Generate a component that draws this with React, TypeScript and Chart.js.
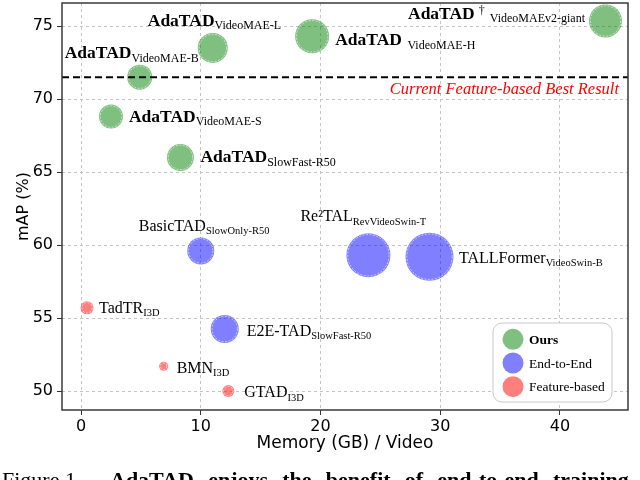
import React, { useEffect, useRef } from "react";
import { Chart, registerables } from "chart.js";

Chart.register(...registerables);

// ---------------- data ----------------
const ourNames = ["AdaTAD", "AdaTAD", "AdaTAD", "AdaTAD", "AdaTAD", "AdaTAD"];
const ourSubs = ["VideoMAE-S", "VideoMAE-B", "VideoMAE-L", "VideoMAE-H", "VideoMAEv2-giant", "SlowFast-R50"];
const ourSup = ["", "", "", "", "†", ""];
const ourMemory = [2.5, 4.9, 11.0, 19.3, 43.8, 8.3];
const ourMAP = [68.8, 71.5, 73.5, 74.3, 75.35, 66.0];
const ourSize = [12, 12.5, 15, 17, 16.5, 13.5];

const e2eNames = ["BasicTAD", "Re²TAL", "TALLFormer", "E2E-TAD"];
const e2eSubs = ["SlowOnly-R50", "RevVideoSwin-T", "VideoSwin-B", "SlowFast-R50"];
const e2eMemory = [10.0, 24.0, 29.1, 12.0];
const e2eMAP = [59.6, 59.3, 59.2, 54.25];
const e2eSize = [13.5, 22, 24, 14];

const featNames = ["TadTR", "BMN", "GTAD"];
const featSubs = ["I3D", "I3D", "I3D"];
const featMemory = [0.5, 6.9, 12.3];
const featMAP = [55.7, 51.7, 50.0];
const featSize = [6.5, 4.5, 6];

const bestFeatureMAP = 71.5;
const bestFeatureLabel = "Current Feature-based Best Result";
const legendLabels = ["Ours", "End-to-End", "Feature-based"];
const xTitle = "Memory (GB) / Video";
const yTitle = "mAP (%)";
const xRange = [-1.59, 45.68];
const yRange = [48.7, 76.58];
const xStep = 10;
const yStep = 5;
const captionPlain = "Figure 1.";
const captionBold = ["AdaTAD", "enjoys", "the", "benefit", "of", "end-to-end", "training"];

// ---------------- layout / style ----------------
const GREEN = "rgba(0,128,0,0.5)";
const BLUE = "rgba(0,0,255,0.5)";
const RED = "rgba(255,0,0,0.5)";
const SERIF = '"Liberation Serif", "Times New Roman", serif';
const SANS = '"DejaVu Sans", sans-serif';

// pixel offsets of label start (x) / baseline (y) relative to bubble centre
const ourLabelOffsets = [[18, 5], [-75, -19], [-65, -22], [23, 9], [-197.5, -2], [20, 5]];
const ourSubGap = [0, 0, 0, 5.5, 5, 0];
const e2eLabelOffsets = [[-62, -20], [-68, -34], [29.5, 6], [22, 7]];
const featLabelOffsets = [[12, 5], [13, 6.5], [16, 6]];
const captionStartX = 110;
const captionLastWordX = 553;

function drawLabel(
  ctx: CanvasRenderingContext2D,
  x: number,
  y: number,
  main: string,
  sub: string,
  sup: string,
  mainFont: string,
  subFont: string,
  gap: number
) {
  ctx.textAlign = "left";
  ctx.textBaseline = "alphabetic";
  ctx.fillStyle = "#000";
  ctx.font = mainFont;
  ctx.fillText(main, x, y);
  let w = ctx.measureText(main).width;
  if (sup) {
    ctx.font = "12px " + SERIF;
    ctx.fillText(sup, x + w + 4, y - 5);
    w += 4 + ctx.measureText(sup).width;
  }
  ctx.font = subFont;
  ctx.fillText(sub, x + w + gap, y + 3.5);
}

const overlayPlugin = {
  id: "overlay",
  afterDatasetsDraw(chart: any) {
    const ctx: CanvasRenderingContext2D = chart.ctx;
    const area = chart.chartArea;
    const ys = chart.scales.y;

    // dashed white rings inside bubbles
    ctx.save();
    chart.data.datasets.forEach((_: any, di: number) => {
      const meta = chart.getDatasetMeta(di);
      meta.data.forEach((el: any) => {
        const r = el.options.radius;
        ctx.beginPath();
        ctx.arc(el.x, el.y, Math.max(r - 1.3, 1), 0, Math.PI * 2);
        ctx.setLineDash([2, 1.5]);
        ctx.lineWidth = 0.8;
        ctx.strokeStyle = "rgba(255,255,255,0.75)";
        ctx.stroke();
      });
    });
    ctx.restore();

    // best feature-based result line
    const yb = ys.getPixelForValue(bestFeatureMAP);
    ctx.save();
    ctx.beginPath();
    ctx.setLineDash([7, 4]);
    ctx.lineWidth = 2;
    ctx.strokeStyle = "#000";
    ctx.moveTo(area.left, yb);
    ctx.lineTo(area.right, yb);
    ctx.stroke();
    ctx.setLineDash([]);
    ctx.font = "italic 16.5px " + SERIF;
    ctx.fillStyle = "#ff0000";
    ctx.textAlign = "right";
    ctx.textBaseline = "alphabetic";
    ctx.fillText(bestFeatureLabel, area.right - 9, yb + 17);
    ctx.restore();

    // labels
    ctx.save();
    const m0 = chart.getDatasetMeta(0);
    m0.data.forEach((el: any, i: number) => {
      const [dx, dy] = ourLabelOffsets[i];
      drawLabel(ctx, el.x + dx, el.y + dy, ourNames[i], ourSubs[i], ourSup[i],
        "bold 17.5px " + SERIF, "12px " + SERIF, ourSubGap[i]);
    });
    const m1 = chart.getDatasetMeta(1);
    m1.data.forEach((el: any, i: number) => {
      const [dx, dy] = e2eLabelOffsets[i];
      drawLabel(ctx, el.x + dx, el.y + dy, e2eNames[i], e2eSubs[i], "",
        "16px " + SERIF, "10.5px " + SERIF, 0);
    });
    const m2 = chart.getDatasetMeta(2);
    m2.data.forEach((el: any, i: number) => {
      const [dx, dy] = featLabelOffsets[i];
      drawLabel(ctx, el.x + dx, el.y + dy, featNames[i], featSubs[i], "",
        "16px " + SERIF, "10.5px " + SERIF, 0);
    });
    ctx.restore();
  },
  afterDraw(chart: any) {
    const ctx: CanvasRenderingContext2D = chart.ctx;
    const area = chart.chartArea;
    ctx.save();
    // frame
    ctx.lineWidth = 1.5;
    ctx.strokeStyle = "#3a3a3a";
    ctx.strokeRect(area.left, area.top, area.right - area.left, area.bottom - area.top);

    // legend
    const bx = area.right - 135, by = area.bottom - 87, bw = 119, bh = 79;
    ctx.beginPath();
    ctx.roundRect(bx, by, bw, bh, 9);
    ctx.fillStyle = "#fff";
    ctx.fill();
    ctx.lineWidth = 1;
    ctx.strokeStyle = "#c8c8c8";
    ctx.stroke();
    const colors = [GREEN, BLUE, RED];
    legendLabels.forEach((lab, i) => {
      const cy = by + 16.3 + i * 23.7;
      ctx.beginPath();
      ctx.arc(bx + 20, cy, 10.5, 0, Math.PI * 2);
      ctx.fillStyle = colors[i];
      ctx.fill();
      ctx.fillStyle = "#000";
      ctx.font = (i === 0 ? "bold " : "") + "13.5px " + SERIF;
      ctx.textAlign = "left";
      ctx.textBaseline = "middle";
      ctx.fillText(lab, bx + 36, cy + 1);
    });

    // caption (cut off by page edge), justified words
    ctx.textBaseline = "alphabetic";
    ctx.textAlign = "left";
    ctx.fillStyle = "#000";
    ctx.font = "22px " + SERIF;
    ctx.fillText(captionPlain, 2, 487);
    ctx.font = "bold 22px " + SERIF;
    const widths = captionBold.map((w) => ctx.measureText(w).width);
    const n = captionBold.length - 1;
    const used = widths.slice(0, n).reduce((a, b) => a + b, 0);
    const space = (captionLastWordX - captionStartX - used) / n;
    let cx = captionStartX;
    captionBold.forEach((w, i) => {
      ctx.fillText(w, cx, 487);
      cx += widths[i] + space;
    });
    ctx.restore();
  },
};

export default function App() {
  const ref = useRef<HTMLCanvasElement>(null);
  useEffect(() => {
    const mk = (xs: number[], ys: number[], rs: number[]) =>
      xs.map((x, i) => ({ x, y: ys[i], r: rs[i] }));
    const chart = new Chart(ref.current as HTMLCanvasElement, {
      type: "bubble",
      data: {
        datasets: [
          { label: legendLabels[0], data: mk(ourMemory, ourMAP, ourSize), backgroundColor: GREEN, borderWidth: 0 },
          { label: legendLabels[1], data: mk(e2eMemory, e2eMAP, e2eSize), backgroundColor: BLUE, borderWidth: 0 },
          { label: legendLabels[2], data: mk(featMemory, featMAP, featSize), backgroundColor: RED, borderWidth: 0 },
        ],
      },
      options: {
        animation: false,
        responsive: false,
        devicePixelRatio: 1,
        layout: { autoPadding: false, padding: { left: 0, top: 3, right: 12, bottom: 20 } },
        plugins: { legend: { display: false }, tooltip: { enabled: false } },
        scales: {
          x: {
            type: "linear",
            position: "bottom",
            min: xRange[0],
            max: xRange[1],
            ticks: { stepSize: xStep, includeBounds: false, color: "#000", font: { family: SANS, size: 16 }, padding: 2, maxRotation: 0 },
            grid: { color: "#c4c4c4", lineWidth: 1, tickLength: 5, tickColor: "#333", tickWidth: 1 },
            border: { display: false, dash: [3, 3] },
            title: { display: true, text: xTitle, color: "#000", font: { family: SANS, size: 17 }, padding: { top: 0, bottom: 6 } },
            afterFit(scale: any) {
              scale.height = 50;
              scale.paddingLeft = 0;
              scale.paddingRight = 0;
            },
          },
          y: {
            type: "linear",
            position: "left",
            min: yRange[0],
            max: yRange[1],
            ticks: { stepSize: yStep, includeBounds: false, color: "#000", font: { family: SANS, size: 16 }, padding: 4 },
            grid: { color: "#c4c4c4", lineWidth: 1, tickLength: 5, tickColor: "#333", tickWidth: 1 },
            border: { display: false, dash: [3, 3] },
            title: { display: true, text: yTitle, color: "#000", font: { family: SANS, size: 16 }, padding: { top: 14, bottom: 0 } },
            afterFit(scale: any) {
              scale.width = 62;
              scale.paddingTop = 0;
              scale.paddingBottom = 0;
            },
          },
        },
      } as any,
      plugins: [overlayPlugin],
    });
    return () => chart.destroy();
  }, []);
  return (
    <div style={{ position: "fixed", left: 0, top: 0, width: 640, height: 480, background: "#fff", overflow: "hidden" }}>
      <canvas ref={ref} width={640} height={480} style={{ display: "block", width: 640, height: 480 }} />
    </div>
  );
}
